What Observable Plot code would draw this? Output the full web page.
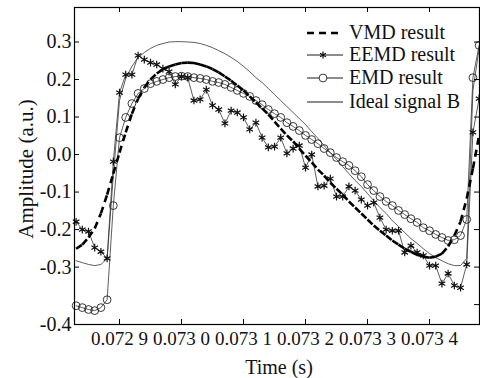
<!DOCTYPE html>
<html><head><meta charset="utf-8">
<script src="https://cdn.jsdelivr.net/npm/d3@7"></script>
<script src="https://cdn.jsdelivr.net/npm/@observablehq/plot@0.6"></script>
<style>
body{margin:0;background:#fff;}
#chart svg{display:block;}
</style></head><body><div id="chart"></div>
<script>
// sample times (s)
const time = [0.07283,0.07284,0.07285,0.07286,0.07287,0.07288,0.07289,0.07290,0.07291,0.07292,
0.07293,0.07294,0.07295,0.07296,0.07297,0.07298,0.07299,0.07300,0.07301,0.07302,
0.07303,0.07304,0.07305,0.07306,0.07307,0.07308,0.07309,0.07310,0.07311,0.07312,
0.07313,0.07314,0.07315,0.07316,0.07317,0.07318,0.07319,0.07320,0.07321,0.07322,
0.07323,0.07324,0.07325,0.07326,0.07327,0.07328,0.07329,0.07330,0.07331,0.07332,
0.07333,0.07334,0.07335,0.07336,0.07337,0.07338,0.07339,0.07340,0.07341,0.07342,
0.07343,0.07344,0.07345,0.07346,0.07347,0.07348];
const vmd = [-0.251,-0.240,-0.221,-0.197,-0.157,-0.107,-0.051,0.005,0.059,0.109,
0.149,0.179,0.200,0.216,0.227,0.235,0.240,0.244,0.245,0.244,
0.240,0.235,0.228,0.219,0.208,0.197,0.184,0.171,0.155,0.139,
0.123,0.107,0.088,0.069,0.051,0.035,0.016,-0.003,-0.021,-0.040,
-0.056,-0.075,-0.091,-0.107,-0.125,-0.141,-0.157,-0.173,-0.189,-0.203,
-0.216,-0.229,-0.240,-0.251,-0.259,-0.267,-0.272,-0.275,-0.272,-0.264,
-0.245,-0.216,-0.179,-0.117,-0.037,0.051];
const eemd = [-0.179,-0.200,-0.205,-0.248,-0.259,-0.277,-0.019,0.165,0.213,0.213,
0.264,0.253,0.245,0.240,0.229,0.221,0.187,0.208,0.205,0.144,
0.147,0.173,0.131,0.120,0.083,0.117,0.112,0.099,0.067,0.085,
0.045,0.019,0.021,0.045,0.003,0.016,0.024,-0.035,0.000,-0.085,
-0.083,-0.064,-0.112,-0.112,-0.085,-0.096,-0.120,-0.136,-0.128,-0.168,
-0.200,-0.203,-0.203,-0.261,-0.243,-0.261,-0.269,-0.296,-0.296,-0.344,
-0.317,-0.349,-0.355,-0.293,0.059,0.149];
const emd = [-0.403,-0.408,-0.413,-0.416,-0.408,-0.387,-0.136,0.045,0.099,0.136,
0.163,0.176,0.189,0.195,0.200,0.205,0.208,0.209,0.208,0.205,
0.203,0.200,0.195,0.192,0.187,0.179,0.171,0.163,0.155,0.144,
0.133,0.120,0.109,0.099,0.085,0.075,0.064,0.051,0.040,0.029,
0.016,0.005,-0.008,-0.019,-0.029,-0.043,-0.059,-0.080,-0.096,-0.112,
-0.125,-0.136,-0.149,-0.160,-0.171,-0.181,-0.195,-0.203,-0.213,-0.221,
-0.229,-0.227,-0.216,-0.173,0.205,0.291];
const ideal = [-0.283,-0.288,-0.293,-0.296,-0.293,-0.277,-0.056,0.144,0.203,0.235,
0.259,0.272,0.283,0.291,0.296,0.300,0.301,0.301,0.300,0.299,
0.296,0.291,0.285,0.277,0.269,0.259,0.248,0.235,0.221,0.205,
0.192,0.176,0.160,0.144,0.128,0.112,0.096,0.080,0.061,0.043,
0.024,0.005,-0.013,-0.032,-0.051,-0.069,-0.085,-0.104,-0.123,-0.141,
-0.157,-0.176,-0.192,-0.208,-0.224,-0.237,-0.251,-0.264,-0.275,-0.283,
-0.291,-0.296,-0.296,-0.277,0.171,0.283];

const xTicks = [0.0729,0.0730,0.0731,0.0732,0.0733,0.0734];
const yTicks = [0.3,0.2,0.1,0.0,-0.1,-0.2,-0.3];
const yTicksRight = [0.3,0.2,0.1,0.0,-0.1,-0.2,-0.3,-0.4];
const xDomain = [0.0728274, 0.0734806];
const yDomain = [-0.453, 0.392];
const seriesNames = ["VMD result","EEMD result","EMD result","Ideal signal B"];
const xLabel = "Time (s)";
const yLabel = "Amplitude (a.u.)";

const W = 480, H = 378, mL = 74, mR = 1, mT = 7, mB = 54;
const fw = W - mL - mR, fh = H - mT - mB;
const FONT = "'Liberation Serif', 'Times New Roman', serif";
const rows = time.map((t, i) => ({t, vmd: vmd[i], eemd: eemd[i], emd: emd[i], ideal: ideal[i]}));
// VMD drawn as consecutive segments (dash pattern restarts on each segment)
const vmdSegs = time.slice(0, -1).map((t, i) => ({x1: t, y1: vmd[i], x2: time[i + 1], y2: vmd[i + 1]}));
const fmtX = d => { const s = d.toFixed(4); return s.slice(0, -1) + " " + s.slice(-1); };
const fmtY = d => d < -0.35 ? "-0.4" : d.toFixed(1);

const plot = Plot.plot({
  width: W, height: H,
  marginLeft: mL, marginRight: mR, marginTop: mT, marginBottom: mB,
  style: {fontFamily: FONT, fontSize: "20px", color: "#111", background: "#fff"},
  x: {domain: xDomain},
  y: {domain: yDomain},
  marks: [
    Plot.line(rows, {x: "t", y: "ideal", stroke: "#333", strokeWidth: 0.8}),
    Plot.line(rows, {x: "t", y: "emd", stroke: "#333", strokeWidth: 0.8}),
    Plot.dot(rows, {x: "t", y: "emd", r: 3.9, stroke: "#222", strokeWidth: 0.9, fill: "none"}),
    Plot.line(rows, {x: "t", y: "eemd", stroke: "#333", strokeWidth: 0.8}),
    Plot.dot(rows, {x: "t", y: "eemd", symbol: "asterisk", r: 3.6, stroke: "#111", strokeWidth: 1.2}),
    Plot.link(vmdSegs, {x1: "x1", y1: "y1", x2: "x2", y2: "y2", stroke: "#000", strokeWidth: 2.6,
      strokeDasharray: "7,5", strokeLinecap: "butt"}),
    Plot.frame({stroke: "#000", strokeWidth: 1.2}),
    Plot.tickY(yTicks, {y: d => d, insetRight: fw - 5, stroke: "#000"}),
    Plot.tickY(yTicksRight, {y: d => d, insetLeft: fw - 5, stroke: "#000"}),
    Plot.tickX(xTicks, {x: d => d, insetTop: fh - 5, stroke: "#000"}),
    Plot.tickX(xTicks, {x: d => d, insetBottom: fh - 5, stroke: "#000"}),
    Plot.axisX({ticks: xTicks, tickFormat: fmtX, tickSize: 0, tickPadding: 7, fontSize: 19, label: null}),
    Plot.axisY({ticks: [...yTicks, yDomain[0]], tickFormat: fmtY, tickSize: 0, tickPadding: 3, label: null})
  ]
});
document.getElementById("chart").appendChild(plot);

const svg = d3.select(plot);
// axis titles
svg.append("text").attr("x", 279).attr("y", 374).attr("text-anchor", "middle")
  .attr("font-family", FONT).attr("font-size", 20).attr("fill", "#111").text(xLabel);
svg.append("text").attr("transform", "translate(33,169) rotate(-90)").attr("text-anchor", "middle")
  .attr("font-family", FONT).attr("font-size", 21).attr("fill", "#111").text(yLabel);

// legend
const lg = svg.append("g").attr("font-family", FONT).attr("font-size", 20).attr("fill", "#111")
  .attr("text-anchor", "start");
const rowsY = [33, 55, 78, 102];
const lx0 = 307, lx1 = 343, lmx = 323, ltx = 349;
seriesNames.forEach((name, i) => {
  const y = rowsY[i];
  const ln = lg.append("line").attr("x1", lx0).attr("x2", lx1).attr("y1", y).attr("y2", y).attr("stroke", "#000");
  if (i === 0) ln.attr("stroke-width", 2.6).attr("stroke-dasharray", "7,5");
  else ln.attr("stroke-width", 0.9);
  if (i === 1) lg.append("path").attr("d", d3.symbol(d3.symbolAsterisk, Math.PI * 3.2 * 3.2)())
    .attr("transform", `translate(${lmx},${y})`).attr("stroke", "#111").attr("stroke-width", 1.2).attr("fill", "none");
  if (i === 2) lg.append("circle").attr("cx", lmx).attr("cy", y).attr("r", 3.9)
    .attr("stroke", "#222").attr("stroke-width", 0.9).attr("fill", "#fff");
  lg.append("text").attr("x", ltx).attr("y", y).attr("dy", "0.32em").attr("text-anchor", "start").text(name);
});
</script></body></html>
